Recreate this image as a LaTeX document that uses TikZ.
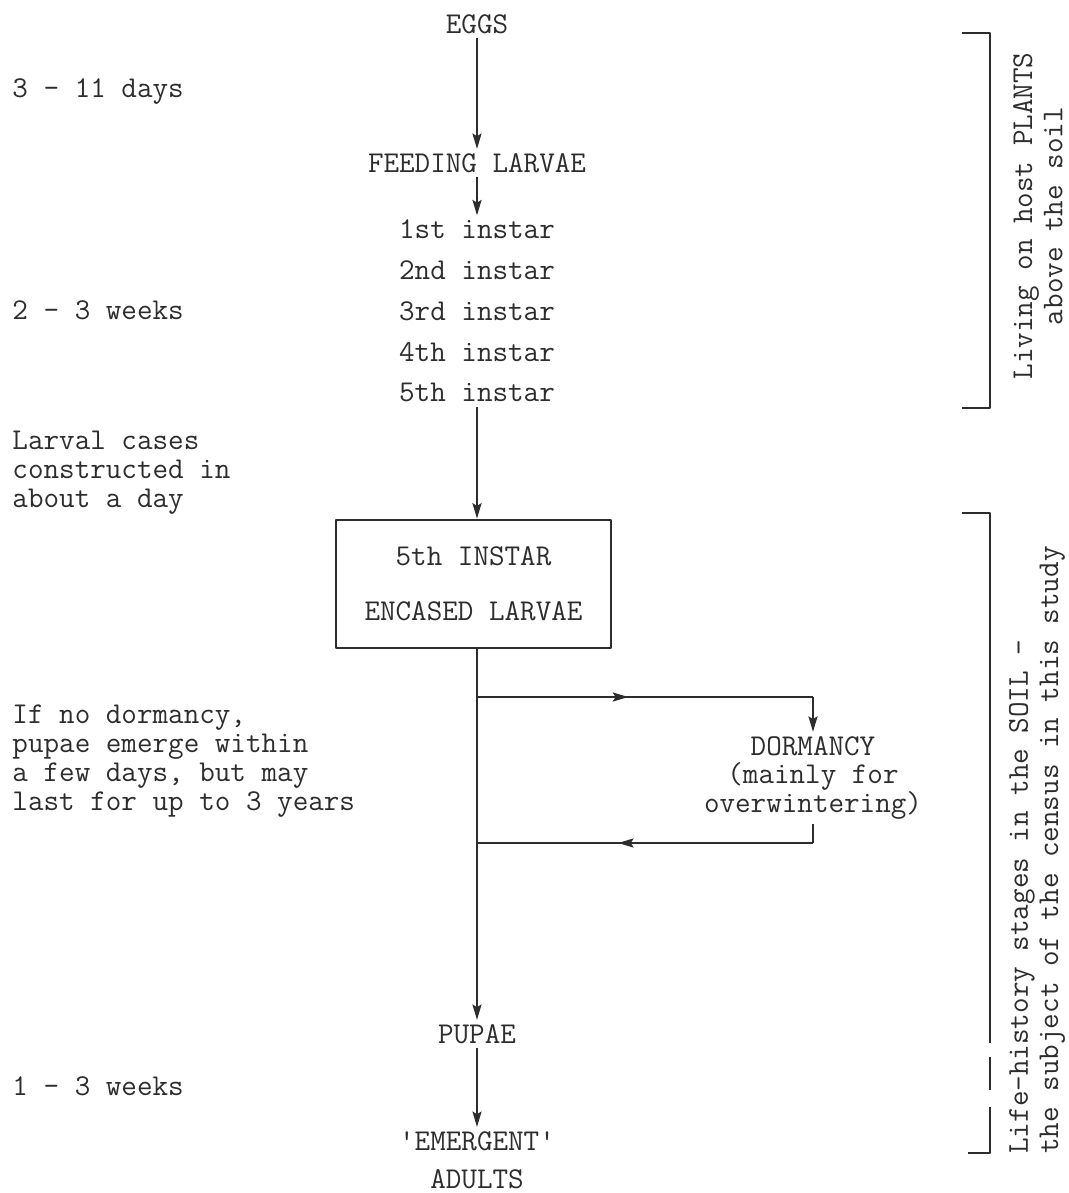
\documentclass[tikz,border=0pt]{standalone}
\usepackage{fontspec}
\usepackage{tikz}
\usetikzlibrary{arrows.meta,decorations.markings}
\definecolor{ink}{RGB}{45,45,45}
\newcommand{\lifefont}{\ttfamily\fontsize{21.5}{20.5}\selectfont}

\begin{document}
\begin{tikzpicture}[x=0.025cm,y=-0.025cm,line join=round,
  every node/.style={font=\lifefont,text=ink,inner sep=3pt},
  link/.style={draw=ink,line width=1.1pt},
  flow/.style={link,-{Stealth[length=11pt,width=6.5pt,inset=2pt]}},
  midarrow/.style={postaction={decorate},decoration={markings,
    mark=at position #1 with {\arrow{Stealth[length=11pt,width=6.5pt,inset=2pt]}}}},
  bracket/.style={draw=ink,line width=1.8pt}]
\useasboundingbox (0,0) rectangle (1069,1193);
% main chain
\node (eggs) at (477,24) {EGGS};
\node (feeding) at (477,163) {FEEDING LARVAE};
\node[align=center] (instars) at (477,311) {1st instar\\[8.5pt]2nd instar\\[8.5pt]3rd instar\\[8.5pt]4th instar\\[8.5pt]5th instar};
\node[draw=ink,line width=2pt,minimum width=6.875cm,minimum height=3.2cm,align=center] (encased) at (473.5,584) {5th INSTAR\\[18.5pt]ENCASED LARVAE};
\node[align=center] (dormancy) at (813,778) {DORMANCY\\(mainly for\\overwintering)};
\node (pupae) at (477,1034) {PUPAE};
\node[align=center] (adults) at (477,1160) {'EMERGENT'\\[6.5pt]ADULTS};
\coordinate (brout) at (477,697);
\coordinate (brin) at (477,843);
\draw[flow] (eggs) -- (feeding);
\draw[flow] (feeding) -- (instars);
\draw[flow] (instars.south) -- (instars.south |- encased.north);
\draw[flow] (encased.south -| brout) -- (pupae);
\draw[link,midarrow=0.45] (brout) -- (brout -| dormancy);
\draw[flow] (brout -| dormancy) -- (dormancy);
\draw[link] (dormancy.south) -- (dormancy.south |- brin);
\draw[link,midarrow=0.58] (dormancy.south |- brin) -- (brin);
\draw[flow] (pupae) -- (adults);
% durations on the left
\node[anchor=west] (eggtime) at (8,92) {3 - 11 days};
\node[anchor=west] (larvatime) at (8,310) {2 - 3 weeks};
\node[anchor=west,align=left] (casing) at (8,473) {Larval cases\\constructed in\\about a day};
\node[anchor=west,align=left] (dormnote) at (8,761) {If no dormancy,\\pupae emerge within\\a few days, but may\\last for up to 3 years};
\node[anchor=west] (pupatime) at (8,1086) {1 - 3 weeks};
% brackets on the right
\draw[bracket] (962,33) -- (990,33) -- (990,408) -- (962,408);
\draw[bracket] (962,513) -- (990,513) -- (990,1043);
\draw[bracket] (990,1057) -- (990,1090);
\draw[bracket] (990,1107) -- (990,1153) -- (968,1153);
\node[rotate=90,align=center] (plants) at (1038,216) {Living on host PLANTS\\[1pt]above the soil};
\node[rotate=90,align=left] (soil) at (1037,850) {Life-history stages in the SOIL -\\[1pt]the subject of the census in this study};
\end{tikzpicture}
\end{document}
